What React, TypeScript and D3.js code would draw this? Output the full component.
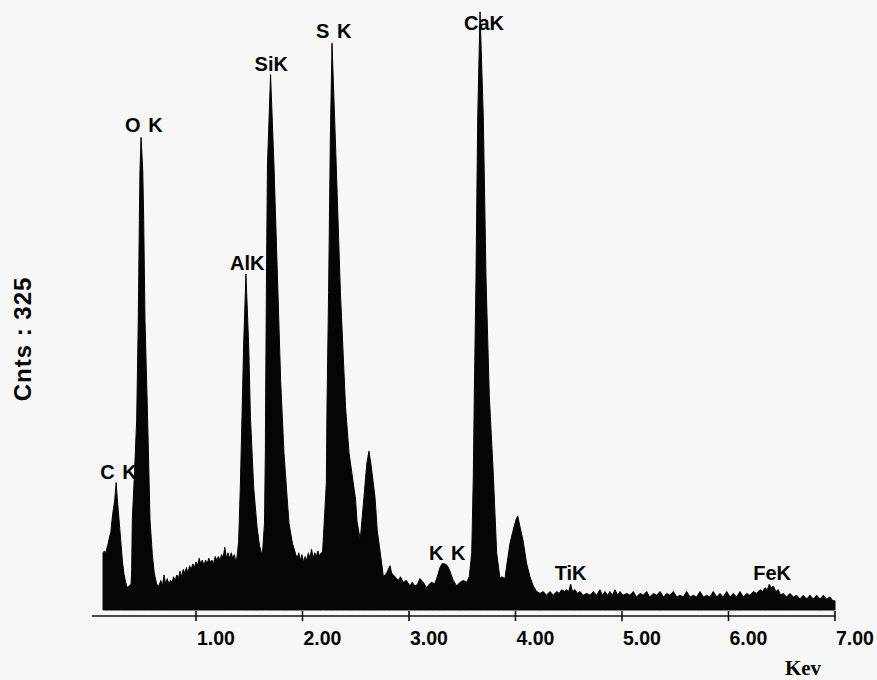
import React from "react";
import * as d3 from "d3";

// ---- data (energy keV, counts) ----
const spectrum: [number, number][] = [
  [0.127, 0], [0.127, 31], [0.14, 32], [0.155, 31], [0.165, 34], [0.175, 36], [0.19, 40], [0.2, 42],
  [0.212, 49], [0.225, 55], [0.236, 59], [0.25, 69], [0.26, 61], [0.27, 54], [0.28, 47], [0.29, 40],
  [0.3, 33], [0.31, 26], [0.325, 19], [0.34, 15], [0.355, 12], [0.37, 13], [0.39, 14],
  // O K
  [0.396, 22], [0.402, 49], [0.423, 75], [0.443, 103], [0.458, 157], [0.468, 211], [0.474, 238],
  [0.484, 256], [0.5, 238], [0.509, 211], [0.521, 157], [0.546, 103], [0.568, 49], [0.59, 30],
  [0.608, 20], [0.631, 14],
  // background
  [0.65, 13], [0.67, 16], [0.685, 13], [0.7, 19], [0.715, 14], [0.73, 17], [0.745, 14], [0.76, 16],
  [0.775, 15], [0.79, 18], [0.805, 16], [0.82, 19], [0.835, 17], [0.85, 21], [0.865, 18], [0.88, 22],
  [0.895, 20], [0.91, 23], [0.925, 20], [0.94, 24], [0.955, 22], [0.97, 25], [0.985, 23], [1.0, 26],
  [1.015, 24], [1.03, 28], [1.045, 25], [1.06, 27], [1.075, 24], [1.09, 27], [1.105, 25], [1.12, 28],
  [1.135, 26], [1.15, 27], [1.165, 25], [1.18, 29], [1.195, 27], [1.21, 29], [1.225, 27], [1.24, 30],
  [1.255, 28], [1.27, 34], [1.285, 28], [1.3, 31], [1.315, 28], [1.33, 31], [1.345, 28], [1.36, 30],
  [1.372, 27],
  // Al K
  [1.384, 28], [1.4, 37], [1.416, 66], [1.432, 105], [1.447, 143], [1.469, 182], [1.495, 143],
  [1.511, 105], [1.542, 66], [1.573, 45], [1.596, 35], [1.617, 30],
  // Si K
  [1.627, 33], [1.643, 47], [1.651, 85], [1.655, 124], [1.662, 182], [1.671, 241], [1.7, 290],
  [1.732, 241], [1.764, 182], [1.795, 124], [1.826, 85], [1.873, 47], [1.906, 36], [1.937, 30],
  // background
  [1.95, 28], [1.965, 31], [1.98, 27], [1.995, 30], [2.01, 26], [2.025, 29], [2.04, 27], [2.055, 31],
  [2.07, 28], [2.085, 33], [2.1, 28], [2.115, 31], [2.13, 29], [2.145, 32], [2.16, 29], [2.175, 31],
  // S K
  [2.188, 31], [2.197, 40], [2.211, 55], [2.224, 69], [2.23, 110], [2.245, 172], [2.261, 254],
  [2.277, 307], [2.309, 254], [2.356, 172], [2.404, 110], [2.437, 85], [2.476, 69], [2.498, 60],
  [2.512, 48], [2.542, 38],
  // 2.6 keV peak
  [2.577, 61], [2.603, 79], [2.624, 86], [2.643, 79], [2.681, 61], [2.702, 43], [2.744, 25], [2.759, 18],
  // background
  [2.79, 20], [2.822, 24], [2.837, 20], [2.869, 18], [2.9, 16], [2.92, 18], [2.946, 15], [2.975, 16],
  [3.009, 13], [3.03, 15], [3.056, 13], [3.08, 14], [3.103, 17], [3.134, 15], [3.166, 12], [3.19, 14],
  [3.213, 15], [3.24, 14], [3.26, 17],
  // K K
  [3.291, 23], [3.31, 25], [3.338, 25], [3.36, 24], [3.378, 22], [3.416, 16], [3.448, 13], [3.479, 15],
  [3.51, 16], [3.542, 15],
  // Ca K
  [3.566, 18], [3.589, 31], [3.604, 73], [3.613, 116], [3.629, 180], [3.645, 266], [3.667, 324],
  [3.698, 266], [3.723, 180], [3.754, 116], [3.792, 73], [3.823, 31], [3.854, 17],
  // Ca Kb
  [3.87, 18], [3.901, 17], [3.92, 25], [3.948, 36], [3.977, 43], [4.005, 49], [4.021, 51], [4.042, 45],
  [4.07, 38], [4.105, 25], [4.136, 18], [4.167, 13], [4.199, 10],
  // background, Ti K, Fe K
  [4.23, 9], [4.261, 10], [4.29, 8], [4.324, 10], [4.355, 8], [4.387, 10], [4.41, 9], [4.434, 11],
  [4.46, 10], [4.481, 11], [4.5, 10], [4.518, 14], [4.535, 10], [4.559, 11], [4.58, 9], [4.606, 10],
  [4.635, 8], [4.668, 9], [4.7, 8], [4.731, 10], [4.76, 8], [4.793, 11], [4.815, 8], [4.84, 10],
  [4.865, 8], [4.887, 10], [4.91, 8], [4.934, 11], [4.96, 8], [4.981, 10], [5.01, 8], [5.044, 9],
  [5.075, 8], [5.106, 10], [5.135, 7], [5.169, 9], [5.2, 8], [5.232, 10], [5.26, 7], [5.294, 9],
  [5.325, 8], [5.357, 10], [5.39, 7], [5.42, 9], [5.45, 8], [5.482, 10], [5.515, 7], [5.545, 8],
  [5.575, 7], [5.607, 10], [5.64, 7], [5.67, 8], [5.7, 7], [5.732, 10], [5.765, 7], [5.795, 8],
  [5.825, 7], [5.857, 10], [5.89, 7], [5.92, 9], [5.95, 7], [5.983, 10], [6.015, 7], [6.045, 9],
  [6.075, 7], [6.108, 10], [6.14, 7], [6.171, 9], [6.2, 8], [6.233, 10], [6.265, 9], [6.296, 11],
  [6.32, 10], [6.343, 12], [6.365, 11], [6.383, 14], [6.4, 12], [6.42, 13], [6.445, 10], [6.467, 11],
  [6.49, 8], [6.514, 9], [6.545, 7], [6.577, 9], [6.61, 7], [6.64, 8], [6.67, 6], [6.702, 8],
  [6.735, 6], [6.765, 8], [6.795, 6], [6.828, 8], [6.86, 6], [6.89, 8], [6.92, 6], [6.953, 7],
  [6.98, 5], [7.0, 5], [7.0, 0],
];

const peakNames = ["C K", "O K", "AlK", "SiK", "S K", "CaK", "K K", "TiK", "FeK"];
const peakKev = [0.25, 0.484, 1.469, 1.7, 2.277, 3.667, 3.338, 4.518, 6.383];
const labelCnt = [71, 259, 184, 292, 310, 314, 27, 16, 16];

const tickValues = [1, 2, 3, 4, 5, 6, 7];
const fullScale = 325;
const yTitle = "Cnts : 325";
const xTitle = "Kev";

export default function App() {
  const W = 877, H = 680;
  const x = d3.scaleLinear().domain([0, 7]).range([89.5, 835]);
  const y = d3.scaleLinear().domain([0, fullScale]).range([610, 10]);
  const area = d3.area<[number, number]>()
    .x((d) => x(d[0]))
    .y0(y(0))
    .y1((d) => y(d[1]));
  const axisY = 616;
  const sans = "'Liberation Sans', Arial, Helvetica, sans-serif";
  const fmt = d3.format(".2f");
  return (
    <svg width={W} height={H} style={{ position: "absolute", left: 0, top: 0, background: "#f6f7f6" }}>
      <rect x={0} y={0} width={W} height={H} fill="#f6f7f6" />
      <path d={area(spectrum) || ""} fill="#050505" stroke="#050505" strokeWidth={1} strokeLinejoin="miter" />
      {/* axis */}
      <line x1={x(0) + 2.5} x2={x(7)} y1={axisY} y2={axisY} stroke="#111" strokeWidth={1.6} />
      {tickValues.map((t) => (
        <g key={t}>
          <line x1={x(t)} x2={x(t)} y1={axisY - 5} y2={axisY + 5} stroke="#111" strokeWidth={1.6} />
          <text x={x(t) + 1} y={645} fontFamily={sans} fontWeight="bold" fontSize={19.5} fill="#050505">
            {fmt(t)}
          </text>
        </g>
      ))}
      {/* peak labels */}
      {peakNames.map((n, i) => (
        <text key={n} x={x(peakKev[i]) - 16} y={y(labelCnt[i])} fontFamily={sans} fontWeight="bold"
          fontSize={20} fill="#050505" style={{ wordSpacing: "2px" }}>
          {n}
        </text>
      ))}
      <text x={803} y={675} textAnchor="middle" fontFamily="'Liberation Serif', 'Times New Roman', serif"
        fontWeight="bold" fontSize={21} fill="#050505">{xTitle}</text>
      <text transform="translate(31,339) rotate(-90)" textAnchor="middle" fontFamily={sans}
        fontWeight="bold" fontSize={24} letterSpacing={1} fill="#050505">{yTitle}</text>
    </svg>
  );
}
